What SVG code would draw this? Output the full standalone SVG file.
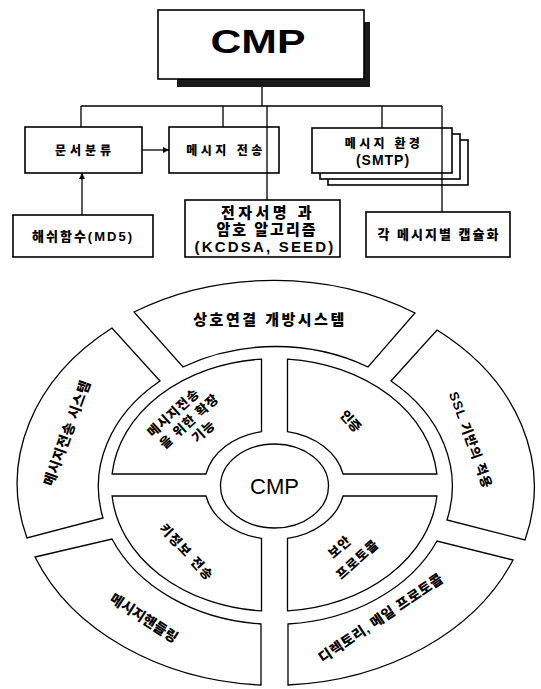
<svg xmlns="http://www.w3.org/2000/svg" width="541" height="689" viewBox="0 0 541 689">
<defs>
<marker id="arr" viewBox="0 0 10 10" refX="10" refY="5" markerWidth="6" markerHeight="6" orient="auto" markerUnits="userSpaceOnUse">
<path d="M0,0 L10,5 L0,10 Z" fill="#000"/>
</marker>
<style>
.box{fill:#fff;stroke:#000;stroke-width:1.6}
.seg{fill:#fff;stroke:#000;stroke-width:1.3}
.ln{fill:none;stroke:#000;stroke-width:1.3}
text{font-family:"Liberation Sans","Noto Sans CJK KR",sans-serif;fill:#000;text-anchor:middle}
.kb{font-weight:900;font-size:12px}
.kt{font-weight:900;font-size:13px}
.kc{font-weight:900;font-size:14px}
.kl{font-weight:900;font-size:15px}
</style>
</defs>
<rect width="541" height="689" fill="#fff"/>

<g id="cmp-top">
<rect x="177" y="22" width="193" height="65" fill="#1a1a1a"/>
<rect class="box" x="158" y="10" width="206" height="69"/>
<text x="258" y="53" font-size="33" font-weight="bold" textLength="95" lengthAdjust="spacingAndGlyphs">CMP</text>
</g>

<g id="doc-class">
<rect class="box" x="25" y="127" width="117" height="46"/>
<text class="kb" x="85" y="155" letter-spacing="4">문서분류</text>
</g>

<g id="msg-send">
<rect class="box" x="169" y="127" width="110" height="46"/>
<text class="kb" x="226" y="155" letter-spacing="3.5">메시지 전송</text>
</g>

<g id="msg-env">
<rect class="box" x="328" y="140" width="140" height="45"/>
<rect class="box" x="320" y="134" width="140" height="45"/>
<rect class="box" x="312" y="128" width="140" height="45"/>
<text class="kb" x="384" y="148" letter-spacing="3.3">메시지 환경</text>
<text x="383" y="165" font-size="14" font-weight="bold" letter-spacing="1">(SMTP)</text>
</g>

<g id="hash">
<rect class="box" x="13" y="215" width="140" height="42"/>
<text class="kt" x="83" y="241" letter-spacing="2">해쉬함수(MD5)</text>
</g>

<g id="sign">
<rect class="box" x="185" y="200" width="155" height="57"/>
<text class="kl" x="268" y="218" letter-spacing="3.5">전자서명 과</text>
<text class="kl" x="267" y="235" letter-spacing="2">암호 알고리즘</text>
<text x="265" y="252" font-size="15" font-weight="bold" letter-spacing="2.2">(KCDSA, SEED)</text>
</g>

<g id="encap">
<rect class="box" x="366" y="212" width="144" height="45"/>
<text class="kt" x="439" y="239" letter-spacing="2">각 메시지별 캡슐화</text>
</g>

<g id="connectors" class="ln">
<path class="ln" d="M262,87 V106 M81,106 H442 M81,106 V127 M223,106 V127 M267,106 V200 M382,106 V128 M442,106 V212"/>
<line class="ln" x1="142" y1="150" x2="169" y2="150" marker-end="url(#arr)"/>
<line class="ln" x1="82" y1="215" x2="82" y2="173" marker-end="url(#arr)"/>
</g>

<g id="ring-top">
<path class="seg" d="M134,312 A259,201 0 0 1 415,313 L368,367 A177,139 0 0 0 183,367 Z"/>
<text class="kl" x="270" y="325" letter-spacing="2.5">상호연결 개방시스템</text>
</g>

<g id="ring-ssl">
<path class="seg" d="M437,330 A259,201 0 0 1 525,540 L447,520 A177,139 0 0 0 391,381 Z"/>
<text class="kt" transform="translate(471,440) rotate(70)" y="5" letter-spacing="1">SSL 기반의 적용</text>
</g>

<g id="ring-dir">
<path class="seg" d="M513,560 A259,201 0 0 1 288,685 L288,624 A177,139 0 0 0 437,541 Z"/>
<text class="kc" transform="translate(381,618) rotate(-34)" y="5" letter-spacing="0.5">디렉토리, 메일 프로토콜</text>
</g>

<g id="ring-handling">
<path class="seg" d="M35,557 L112,539 A177,139 0 0 0 261,624 L261,685 A259,201 0 0 1 35,557 Z"/>
<text class="kc" transform="translate(144,618) rotate(33)" y="5">메시지핸들링</text>
</g>

<g id="ring-mts">
<path class="seg" d="M27,538 A259,201 0 0 1 112,328 L160,381 A177,139 0 0 0 103,518 Z"/>
<text class="kc" transform="translate(67,433) rotate(-70)" y="5" letter-spacing="0.5">메시지전송 시스템</text>
</g>

<g id="q-ext">
<path class="seg" d="M261.5,431.7 L261.5,359.1 A163,126.3 0 0 0 112.1,474 L205.95,474 A70,54.25 0 0 1 261.5,431.7 Z"/>
<g transform="translate(189,421) rotate(-42)">
<text class="kt" x="-6" y="-12" letter-spacing="1">메시지전송</text>
<text class="kt" x="0" y="5" letter-spacing="1">을 위한 확장</text>
<text class="kt" x="4" y="22" letter-spacing="1">기능</text>
</g>
</g>

<g id="q-auth">
<path class="seg" d="M287.5,431.7 L287.5,359.1 A163,126.3 0 0 1 436.9,474 L343.05,474 A70,54.25 0 0 0 287.5,431.7 Z"/>
<text class="kt" transform="translate(351,421) rotate(48)" y="5">인증</text>
</g>

<g id="q-key">
<path class="seg" d="M261.5,538.3 L261.5,610.9 A163,126.3 0 0 1 112.1,496 L205.95,496 A70,54.25 0 0 0 261.5,538.3 Z"/>
<text class="kt" transform="translate(187,552) rotate(47)" y="5" letter-spacing="1.5">키정보 전송</text>
</g>

<g id="q-sec">
<path class="seg" d="M287.5,538.3 L287.5,610.9 A163,126.3 0 0 0 436.9,496 L343.05,496 A70,54.25 0 0 1 287.5,538.3 Z"/>
<g transform="translate(349,553) rotate(-42)">
<text class="kt" x="-3" y="-6" letter-spacing="1">보안</text>
<text class="kt" x="2" y="15" letter-spacing="1">프로토콜</text>
</g>
</g>

<g id="cmp-center">
<ellipse class="seg" cx="274.5" cy="486" rx="54" ry="42"/>
<text x="274.5" y="494" font-size="22">CMP</text>
</g>
</svg>
